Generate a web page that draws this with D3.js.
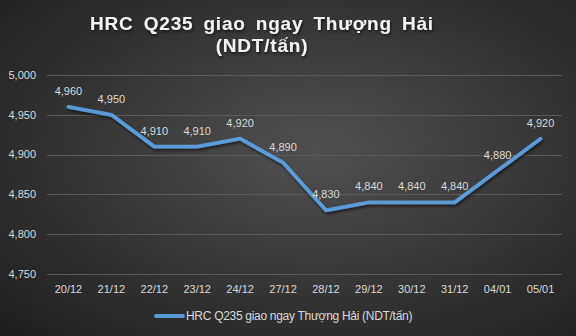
<!DOCTYPE html>
<html>
<head>
<meta charset="utf-8">
<script src="https://cdn.jsdelivr.net/npm/d3@7"></script>
<style>
  body { margin: 0; background: #2b2b2b; }
  svg { display: block; }
</style>
</head>
<body>
<svg id="chart" width="576" height="336"></svg>
<script>
var dates = ["20/12", "21/12", "22/12", "23/12", "24/12", "27/12", "28/12", "29/12", "30/12", "31/12", "04/01", "05/01"];
var prices = [4960, 4950, 4910, 4910, 4920, 4890, 4830, 4840, 4840, 4840, 4880, 4920];
var yTicks = [4750, 4800, 4850, 4900, 4950, 5000];
var seriesName = "HRC Q235 giao ngay Thượng Hải (NDT/tấn)";
var titleLines = ["HRC Q235 giao ngay Thượng Hải", "(NDT/tấn)"];

var W = 576, H = 336;
var m = {top: 75, right: 14, bottom: 62, left: 47};
var svg = d3.select("#chart");
var defs = svg.append("defs");

// background gradient
var bg = defs.append("radialGradient").attr("id", "bg")
    .attr("cx", "55%").attr("cy", "45%").attr("r", "75%");
bg.append("stop").attr("offset", "0%").attr("stop-color", "#505050");
bg.append("stop").attr("offset", "100%").attr("stop-color", "#1f1f1f");
svg.append("rect").attr("width", W).attr("height", H).attr("fill", "url(#bg)");

// shadows
var sh = defs.append("filter").attr("id", "shadow").attr("x", "-10%").attr("y", "-10%").attr("width", "120%").attr("height", "130%");
sh.append("feDropShadow").attr("dx", 1).attr("dy", 2).attr("stdDeviation", 1.5)
    .attr("flood-color", "#000").attr("flood-opacity", 0.6);

var x = d3.scaleBand().domain(dates).range([m.left, W - m.right]);
var y = d3.scaleLinear().domain([4750, 5000]).range([H - m.bottom, m.top]);

// grid
svg.append("g").selectAll("line").data(yTicks).enter().append("line")
    .attr("x1", m.left).attr("x2", W - m.right)
    .attr("y1", function(d){ return Math.round(y(d)) + 0.5; })
    .attr("y2", function(d){ return Math.round(y(d)) + 0.5; })
    .attr("stroke", "#5a5a5a").attr("stroke-width", 1);

// y labels
svg.append("g").selectAll("text").data(yTicks).enter().append("text")
    .attr("x", 36).attr("y", function(d){ return y(d); })
    .attr("dy", "0.35em").attr("text-anchor", "end")
    .attr("font-family", "Liberation Sans, Arial, sans-serif").attr("font-size", 11)
    .attr("fill", "#d9d9d9")
    .text(d3.format(","));

// x labels
svg.append("g").selectAll("text").data(dates).enter().append("text")
    .attr("x", function(d){ return x(d) + x.bandwidth() / 2; })
    .attr("y", H - m.bottom + 19)
    .attr("text-anchor", "middle")
    .attr("font-family", "Liberation Sans, Arial, sans-serif").attr("font-size", 11)
    .attr("fill", "#d9d9d9")
    .text(function(d){ return d; });

// line
var line = d3.line()
    .x(function(d, i){ return x(dates[i]) + x.bandwidth() / 2; })
    .y(function(d){ return y(d); });
svg.append("path").datum(prices)
    .attr("d", line)
    .attr("fill", "none")
    .attr("stroke", "#5b9bd5").attr("stroke-width", 3.8)
    .attr("stroke-linejoin", "round").attr("stroke-linecap", "round")
    .attr("filter", "url(#shadow)");

// data labels
svg.append("g").selectAll("text").data(prices).enter().append("text")
    .attr("x", function(d, i){ return x(dates[i]) + x.bandwidth() / 2; })
    .attr("y", function(d){ return y(d) - 12; })
    .attr("text-anchor", "middle")
    .attr("font-family", "Liberation Sans, Arial, sans-serif").attr("font-size", 11)
    .attr("fill", "#d9d9d9")
    .text(d3.format(","));

// title
svg.append("g").attr("filter", "url(#shadow)").selectAll("text").data(titleLines).enter().append("text")
    .attr("x", 262).attr("y", function(d, i){ return 30 + i * 22; })
    .attr("text-anchor", "middle")
    .attr("font-family", "Liberation Sans, Arial, sans-serif").attr("font-weight", "bold")
    .attr("font-size", 19).attr("letter-spacing", 0.8).attr("word-spacing", 4)
    .attr("fill", "#f2f2f2")
    .text(function(d){ return d; });

// legend
var lg = svg.append("g");
lg.append("line").attr("x1", 156).attr("x2", 183).attr("y1", 316).attr("y2", 316)
    .attr("stroke", "#5b9bd5").attr("stroke-width", 3.8).attr("stroke-linecap", "round");
lg.append("text").attr("x", 186).attr("y", 316).attr("dy", "0.35em")
    .attr("font-family", "Liberation Sans, Arial, sans-serif").attr("font-size", 12)
    .attr("letter-spacing", -0.3)
    .attr("fill", "#d9d9d9")
    .text(seriesName);
</script>
</body>
</html>
